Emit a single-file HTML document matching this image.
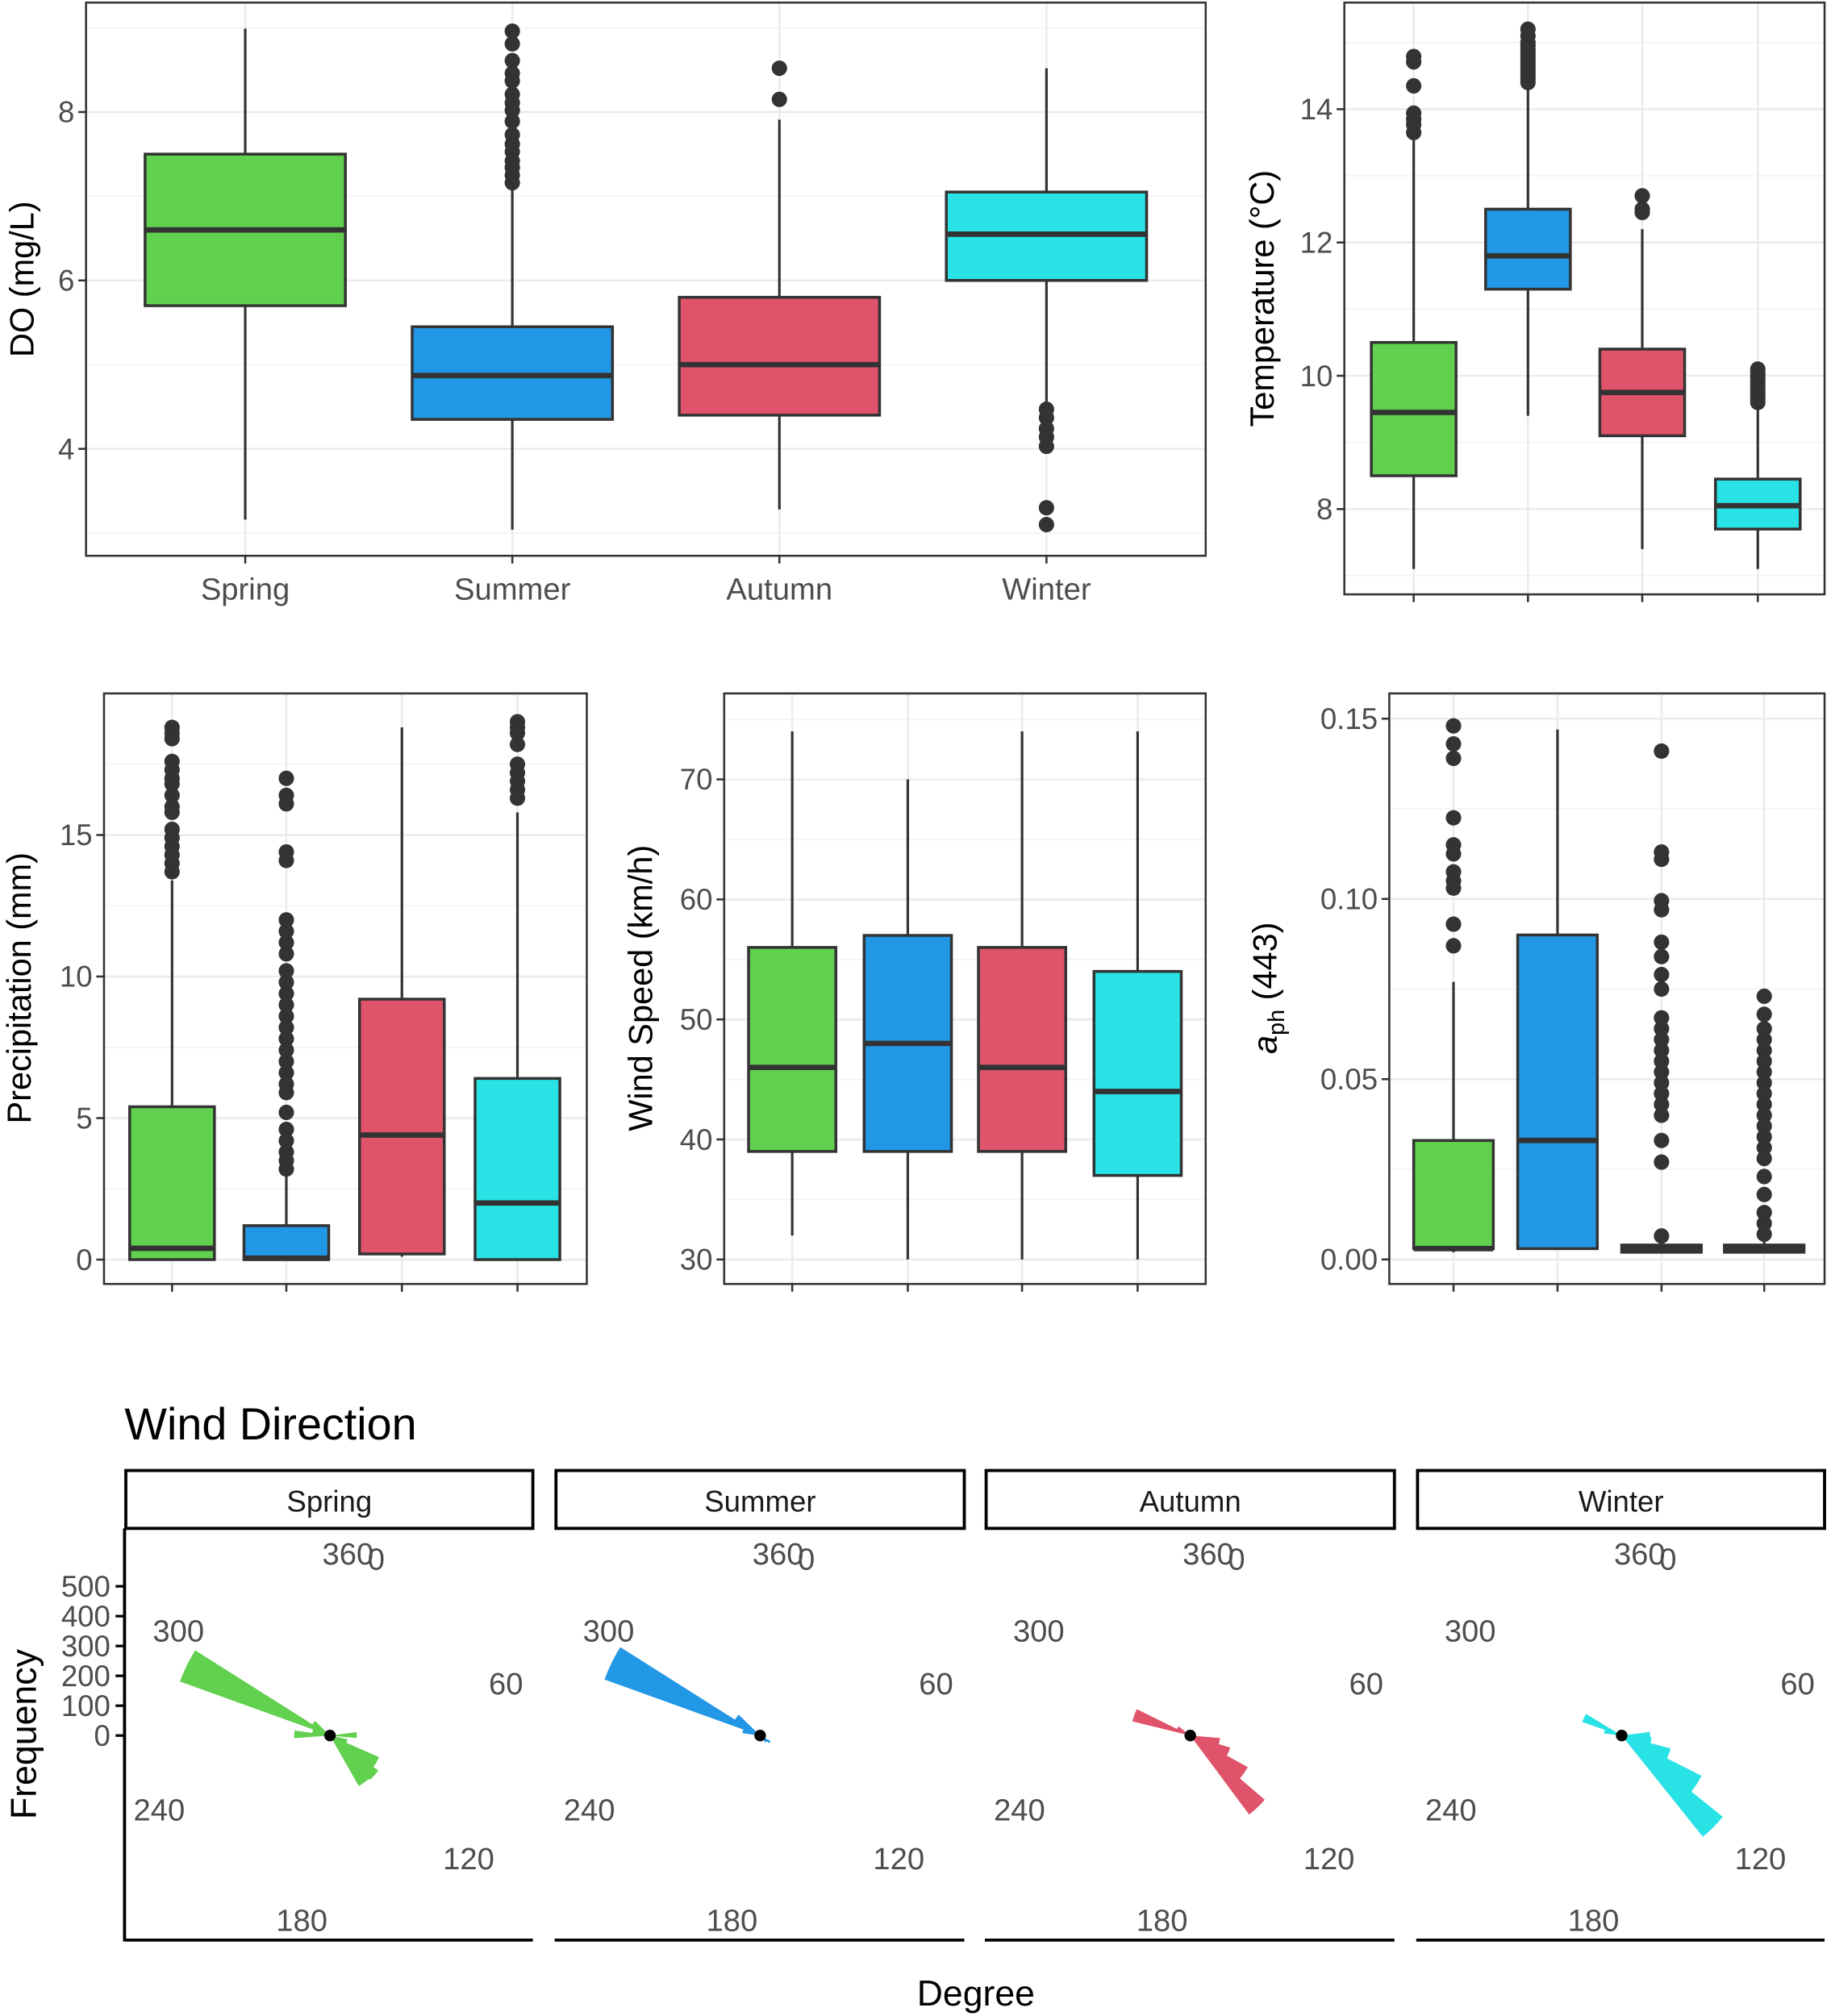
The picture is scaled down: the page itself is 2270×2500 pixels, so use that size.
<!DOCTYPE html>
<html><head><meta charset="utf-8">
<style>
html,body{margin:0;padding:0;background:#fff;}
svg{display:block;font-family:"Liberation Sans",Arial,sans-serif;}
</style></head>
<body>
<svg id="chart" xmlns="http://www.w3.org/2000/svg" width="2270" height="2500" viewBox="0 0 1426 1567" preserveAspectRatio="none">
<g id="root"></g>
</svg>
<script>
// ---------- DATA ----------
const seasons = ["Spring","Summer","Autumn","Winter"];
const seasonColors = ["#61D04F","#2297E6","#DF536B","#28E2E5"];

// Dissolved oxygen (mg/L)
const doLow  = [3.16, 3.04, 3.28, 4.55];
const doQ1   = [5.7, 4.35, 4.4, 6.0];
const doMed  = [6.6, 4.87, 5.0, 6.55];
const doQ3   = [7.5, 5.45, 5.8, 7.05];
const doHigh = [8.99, 7.07, 7.91, 8.52];
const doOut  = [[],
  [8.96,8.81,8.61,8.46,8.37,8.21,8.11,8.02,7.89,7.73,7.62,7.53,7.42,7.34,7.25,7.16],
  [8.15,8.52],
  [4.47,4.37,4.24,4.14,4.03,3.30,3.10]];
const doTicks = [4,6,8];

// Temperature (°C)
const tLow  = [7.1, 9.4, 7.4, 7.1];
const tQ1   = [8.5, 11.3, 9.1, 7.7];
const tMed  = [9.45, 11.8, 9.75, 8.05];
const tQ3   = [10.5, 12.5, 10.4, 8.45];
const tHigh = [13.6, 14.3, 12.2, 9.5];
const tOut  = [[14.79,14.71,14.35,13.94,13.85,13.77,13.65],
  [15.2,15.1,15.0,14.95,14.9,14.85,14.8,14.75,14.7,14.65,14.6,14.55,14.5,14.45,14.4],
  [12.7,12.5,12.45],
  [10.1,10.05,10.0,9.95,9.9,9.85,9.8,9.75,9.7,9.65,9.6]];
const tTicks = [8,10,12,14];

// Precipitation (mm)
const pLow  = [0, 0, 0.1, 0];
const pQ1   = [0, 0, 0.2, 0];
const pMed  = [0.4, 0.05, 4.4, 2.0];
const pQ3   = [5.4, 1.2, 9.2, 6.4];
const pHigh = [13.4, 3.0, 18.8, 15.8];
const pOut  = [[18.8,18.6,18.4,17.6,17.3,17.0,16.8,16.4,16.0,15.8,15.2,14.9,14.6,14.3,14.0,13.7],
  [17.0,16.4,16.1,14.4,14.1,12.0,11.6,11.2,10.8,10.2,9.8,9.4,9.0,8.6,8.2,7.8,7.4,7.0,6.6,6.2,5.9,5.2,4.6,4.2,3.8,3.5,3.2],
  [],
  [19.0,18.8,18.6,18.2,17.5,17.2,16.9,16.6,16.3]];
const pTicks = [0,5,10,15];

// Wind speed (km/h)
const wLow  = [32, 30, 30, 30];
const wQ1   = [39, 39, 39, 37];
const wMed  = [46, 48, 46, 44];
const wQ3   = [56, 57, 56, 54];
const wHigh = [74, 70, 74, 74];
const wOut  = [[],[],[],[]];
const wTicks = [30,40,50,60,70];

// a_ph(443)
const aLow  = [0.002, 0.003, 0.002, 0.002];
const aQ1   = [0.003, 0.003, 0.002, 0.002];
const aMed  = [0.003, 0.033, 0.003, 0.003];
const aQ3   = [0.033, 0.090, 0.004, 0.004];
const aHigh = [0.077, 0.147, 0.005, 0.005];
const aOut  = [[0.148,0.143,0.139,0.1225,0.115,0.1125,0.1075,0.105,0.103,0.093,0.087],
  [],
  [0.141,0.113,0.111,0.0995,0.097,0.088,0.084,0.079,0.075,0.067,0.064,0.061,0.058,0.055,0.052,0.049,0.046,0.043,0.040,0.033,0.027,0.0065],
  [0.073,0.068,0.064,0.061,0.058,0.055,0.052,0.049,0.046,0.043,0.040,0.037,0.034,0.031,0.028,0.023,0.018,0.013,0.010,0.007]];
const aTicks = [0,0.05,0.10,0.15];
const aTickLabels = ["0.00","0.05","0.10","0.15"];

// Wind direction rose: bin centres (deg) and counts
const roseSpringDir = [296,272,284,308,89,108,120,132,144];
const roseSpringCnt = [535,120,60,70,90,60,180,200,195];
const roseSummerDir = [296,308,284,124,136];
const roseSummerCnt = [555,100,60,40,30];
const roseAutumnDir = [290,302,101,113,125,137];
const roseAutumnCnt = [200,50,100,140,220,330];
const roseWinterDir = [295,283,89,99,111,123,135];
const roseWinterCnt = [140,60,95,100,170,300,435];
const freqTicks = [0,100,200,300,400,500];
const roseAxisLabels = ["360","0","60","120","180","240","300"];

// ---------- DRAWING ----------
const NS="http://www.w3.org/2000/svg";
const root=document.getElementById('root');
function el(tag,attrs,parent){const e=document.createElementNS(NS,tag);for(const k in attrs)e.setAttribute(k,attrs[k]);(parent||root).appendChild(e);return e;}
function txt(s,attrs,parent){const e=el('text',attrs,parent);e.textContent=s;return e;}

function boxPanel(name,cfg,low,q1,med,q3,high,outs,ticks,tickLabels,title,minor){
  const g=el('g',{});  
  const {x0,x1,y0,y1,vTop,vBot,cx,hw}=cfg;
  const Y=v=>y0+(vTop-v)/(vTop-vBot)*(y1-y0);
  el('rect',{x:x0,y:y0,width:x1-x0,height:y1-y0,fill:'#fff'},g);
  minor.forEach(v=>{const l=el('line',{x1:x0,x2:x1,y1:Y(v),y2:Y(v),stroke:'#F2F2F2','stroke-width':0.9},g);
    });
  ticks.forEach(v=>{const l=el('line',{x1:x0,x2:x1,y1:Y(v),y2:Y(v),stroke:'#EBEBEB','stroke-width':1.6},g);
    });
  cx.forEach(x=>{el('line',{x1:x,x2:x,y1:y0,y2:y1,stroke:'#EBEBEB','stroke-width':1.6},g);});
  seasons.forEach((s,i)=>{
    const x=cx[i];
    const w=el('line',{x1:x,x2:x,y1:Y(high[i]),y2:Y(low[i]),stroke:'#333','stroke-width':2},g);
    
    const b=el('rect',{x:x-hw,y:Y(q3[i]),width:2*hw,height:Math.max(Y(q1[i])-Y(q3[i]),0.5),fill:seasonColors[i],stroke:'#333','stroke-width':2.2},g);
    
    const m=el('line',{x1:x-hw,x2:x+hw,y1:Y(med[i]),y2:Y(med[i]),stroke:'#333','stroke-width':4.2},g);
    
    outs[i].forEach(v=>{const c=el('circle',{cx:x,cy:Y(v),r:6,fill:'#333'},g);
      });
    const t=el('line',{x1:x,x2:x,y1:y1,y2:y1+6,stroke:'#333','stroke-width':1.6},g);
    
  });
  el('rect',{x:x0,y:y0,width:x1-x0,height:y1-y0,fill:'none',stroke:'#333','stroke-width':1.6},g);
  ticks.forEach((v,k)=>{
    el('line',{x1:x0-6,x2:x0,y1:Y(v),y2:Y(v),stroke:'#333','stroke-width':1.6},g);
    const t=txt(tickLabels[k],{x:x0-9,y:Y(v)+8,'text-anchor':'end','font-size':23,fill:'#4D4D4D'},g);
    
  });
  return {g,Y};
}

// DO panel
const p1=boxPanel('do',{x0:67,x1:939,y0:2,y1:432,vTop:9.30,vBot:2.73,cx:[191,399,607,815],hw:78},
  doLow,doQ1,doMed,doQ3,doHigh,doOut,doTicks,doTicks.map(String),'DO',[3,5,7,9]);
seasons.forEach((s,i)=>{const t=txt(s,{x:[191,399,607,815][i],y:466,'text-anchor':'middle','font-size':24,fill:'#4D4D4D'},p1.g);
  });
let yt=txt('DO (mg/L)',{transform:'translate(26,217) rotate(-90)','text-anchor':'middle','font-size':26,fill:'#000'},p1.g);


// Temperature panel
const p2=boxPanel('temperature',{x0:1047,x1:1421,y0:2,y1:462,vTop:15.60,vBot:6.72,cx:[1101,1190,1279,1369],hw:33},
  tLow,tQ1,tMed,tQ3,tHigh,tOut,tTicks,tTicks.map(String),'Temp',[7,9,11,13,15]);
yt=txt('Temperature (°C)',{transform:'translate(992,232) rotate(-90)','text-anchor':'middle','font-size':26,fill:'#000'},p2.g);


// Precipitation
const p3=boxPanel('precipitation',{x0:81,x1:457,y0:539,y1:998,vTop:20.0,vBot:-0.86,cx:[134,223,313,403],hw:33},
  pLow,pQ1,pMed,pQ3,pHigh,pOut,pTicks,pTicks.map(String),'Precip',[2.5,7.5,12.5,17.5]);
yt=txt('Precipitation (mm)',{transform:'translate(24,768) rotate(-90)','text-anchor':'middle','font-size':26,fill:'#000'},p3.g);


// Wind speed
const p4=boxPanel('wind-speed',{x0:564,x1:939,y0:539,y1:998,vTop:77.16,vBot:27.96,cx:[617,707,796,886],hw:34},
  wLow,wQ1,wMed,wQ3,wHigh,wOut,wTicks,wTicks.map(String),'Wind',[35,45,55,65,75]);
yt=txt('Wind Speed (km/h)',{transform:'translate(508,768) rotate(-90)','text-anchor':'middle','font-size':26,fill:'#000'},p4.g);


// aph
const p5=boxPanel('aph',{x0:1082,x1:1421,y0:539,y1:998,vTop:0.157,vBot:-0.0068,cx:[1132,1213,1294,1374],hw:31},
  aLow,aQ1,aMed,aQ3,aHigh,aOut,aTicks,aTickLabels,'aph',[0.025,0.075,0.125]);
yt=el('text',{transform:'translate(994,768) rotate(-90)','text-anchor':'middle','font-size':26,fill:'#000'},p5.g);

let ts=el('tspan',{'font-style':'italic'},yt);ts.textContent='a';
ts=el('tspan',{'font-size':18,dy:6},yt);ts.textContent='ph';
ts=el('tspan',{dy:-6},yt);ts.textContent=' (443)';

// ---------- Wind direction roses ----------
const rg=el('g',{});  
let tt=txt('Wind Direction',{x:97,y:1119,'font-size':35,fill:'#000'},rg);

const stripX=[[98,415],[433,751],[768,1086],[1104,1421]];
const roseCx=[257,592,927,1263], roseCy=1349, perCount=116/500;
const roseDirs=[roseSpringDir,roseSummerDir,roseAutumnDir,roseWinterDir];
const roseCnts=[roseSpringCnt,roseSummerCnt,roseAutumnCnt,roseWinterCnt];
const binW=12.5;
const labelOff=[[14,-141,'middle'],[36,-137,'middle'],[137,-40,'middle'],[108,96,'middle'],[-22,144,'middle'],[-133,58,'middle'],[-118,-81,'middle']];
seasons.forEach((s,i)=>{
  const [a,b]=stripX[i];
  const st=el('rect',{x:a,y:1143,width:b-a,height:45,fill:'#fff',stroke:'#000','stroke-width':2.4},rg);
  
  const sl=txt(s,{x:(a+b)/2,y:1175,'text-anchor':'middle','font-size':23,fill:'#1A1A1A'},rg);
  
  el('line',{x1:a-1,x2:b,y1:1508,y2:1508,stroke:'#000','stroke-width':2.4},rg);
  const cx=roseCx[i];
  roseAxisLabels.forEach((lab,k)=>{const o=labelOff[k];
    const t=txt(lab,{x:cx+o[0],y:roseCy+o[1]+8,'text-anchor':o[2],'font-size':24,fill:'#4D4D4D'},rg);
    });
  roseDirs[i].forEach((d,k)=>{
    const r=roseCnts[i][k]*perCount;
    const a1=(d-binW/2)*Math.PI/180, a2=(d+binW/2)*Math.PI/180;
    const pA=[cx+r*Math.sin(a1),roseCy-r*Math.cos(a1)], pB=[cx+r*Math.sin(a2),roseCy-r*Math.cos(a2)];
    const w=el('path',{d:`M${cx},${roseCy} L${pA[0]},${pA[1]} A${r},${r} 0 0 1 ${pB[0]},${pB[1]} Z`,fill:seasonColors[i]},rg);
    
  });
  const c=el('circle',{cx:cx,cy:roseCy,r:4.5,fill:'#000'},rg);
  
});
el('line',{x1:97,x2:97,y1:1188,y2:1509,stroke:'#000','stroke-width':2.4},rg);
freqTicks.forEach(v=>{const y=roseCy-v*perCount;
  el('line',{x1:90,x2:97,y1:y,y2:y,stroke:'#000','stroke-width':2},rg);
  const t=txt(String(v),{x:86,y:y+8,'text-anchor':'end','font-size':23,fill:'#4D4D4D'},rg);
  });
tt=txt('Frequency',{transform:'translate(28,1348) rotate(-90)','text-anchor':'middle','font-size':28,fill:'#000'},rg);

tt=txt('Degree',{x:760,y:1559,'text-anchor':'middle','font-size':28,fill:'#000'},rg);

</script>
</body></html>
